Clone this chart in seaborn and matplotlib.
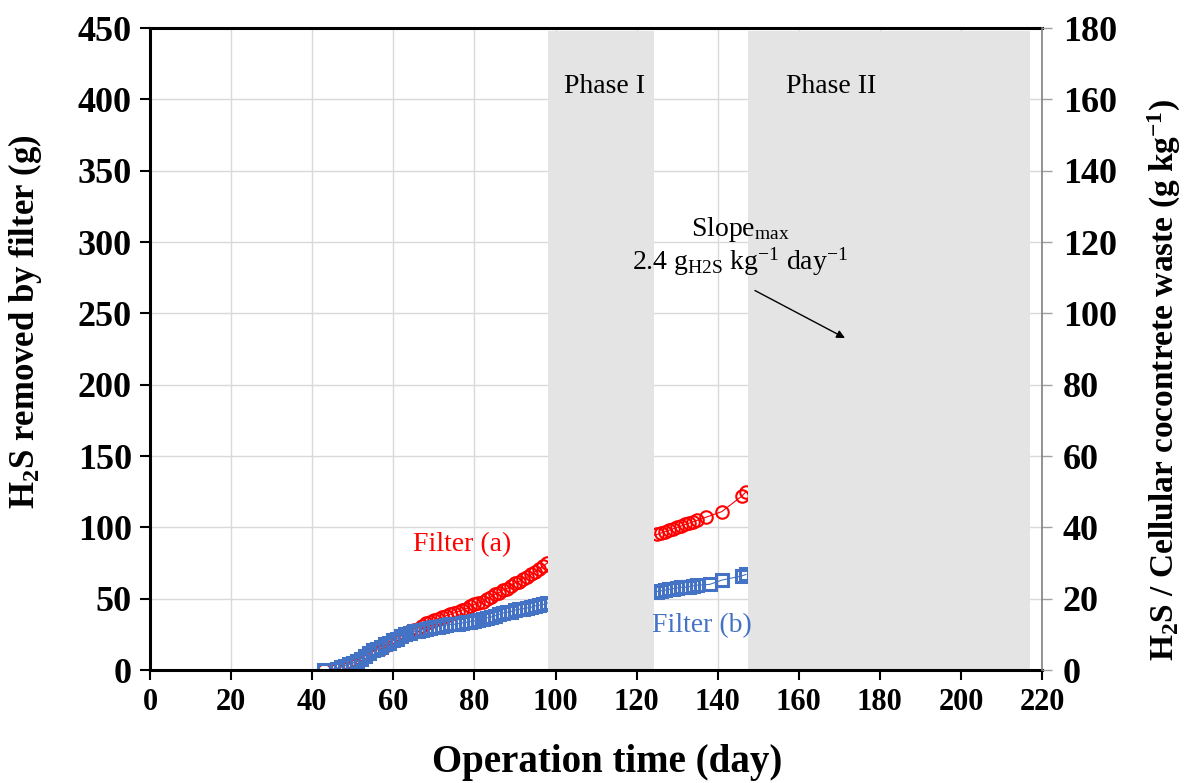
import matplotlib
matplotlib.use("Agg")
import matplotlib.pyplot as plt
import seaborn as sns
import pandas as pd

# ---------------- data ----------------
days_a = [43, 46, 47, 48, 49, 50, 51, 52, 53, 54, 55, 56, 57, 58, 59, 60, 61, 62, 63, 64,
          65, 66, 67, 68, 69, 70, 71, 72, 73, 74, 75, 76, 77, 78, 79, 80, 81, 82, 83, 84,
          85, 86, 87, 88, 89, 90, 91, 92, 93, 94, 95, 96, 97, 98,
          125, 126, 127, 128, 129, 130, 131, 132, 133, 134, 135, 137, 141, 146, 147]
h2s_a = [0, 1, 2, 3, 4, 5, 6, 8, 10, 11, 13, 14, 15, 17, 19, 21, 22, 24, 25, 27,
         28, 29, 31, 33, 34, 35, 36, 37, 38, 39, 40, 41, 42, 43, 45, 46, 47, 48, 50, 51,
         53, 54, 56, 57, 59, 61, 62, 64, 65, 67, 69, 71, 73, 75,
         95, 96, 97, 98, 99, 100, 101, 102, 103, 104, 105, 107, 111, 122, 125]

days_b = [43, 46, 47, 48, 49, 50, 51, 52, 53, 54, 55, 56, 57, 58, 59, 60, 61, 62, 63, 64,
          65, 66, 67, 68, 69, 70, 71, 72, 73, 74, 75, 76, 77, 78, 79, 80, 81, 82, 83, 84,
          85, 86, 87, 88, 89, 90, 91, 92, 93, 94, 95, 96, 97, 98,
          125, 126, 127, 128, 129, 130, 131, 132, 133, 134, 135, 138, 141, 146, 147]
h2s_b = [0, 1, 2, 3, 4, 5, 6, 8, 10, 12, 14, 15, 16, 18, 19, 21, 22, 24, 25, 26,
         27, 27.5, 28, 29, 29.5, 30, 30.5, 31, 31.5, 32, 32, 32.5, 33, 33.5, 34, 34.5, 35, 36, 36.5, 37,
         38, 39, 40, 40.5, 41, 42, 42.5, 43, 43.5, 44, 45, 45.5, 46, 47,
         55, 55.5, 56, 56.5, 57, 57.5, 58, 58, 58.5, 59, 59.5, 60, 63, 66, 67]

phase_names = ["Phase I", "Phase II"]
phase_spans = [(98.1, 124.3), (147.5, 217.0)]

x_ticks = list(range(0, 221, 20))
y_left_ticks = list(range(0, 451, 50))
y_right_ticks = list(range(0, 181, 20))

df_a = pd.DataFrame({"day": days_a, "h2s": h2s_a})
df_b = pd.DataFrame({"day": days_b, "h2s": h2s_b})

# ---------------- style ----------------
sns.set_theme(style="white")
plt.rcParams["font.family"] = ["Liberation Serif", "DejaVu Serif"]
plt.rcParams["mathtext.default"] = "regular"
plt.rcParams["text.color"] = "black"
plt.rcParams["axes.labelcolor"] = "black"
plt.rcParams["xtick.color"] = "black"
plt.rcParams["ytick.color"] = "black"

RED = "#FF0000"
BLUE = "#4472C4"
GRAY = "#E4E4E4"

fig = plt.figure(figsize=(11.89, 7.83), dpi=100)
ax = fig.add_axes([0.1262, 0.1443, 0.7502, 0.8199])

ax.set_axisbelow(True)
ax.grid(True, color="#D9D9D9", linewidth=1.0)

sns.lineplot(data=df_a, x="day", y="h2s", ax=ax, color=RED, linewidth=0.8,
             marker="o", markersize=9, markerfacecolor="none",
             markeredgecolor=RED, markeredgewidth=1.5, sort=False,
             estimator=None, zorder=2)
sns.lineplot(data=df_b, x="day", y="h2s", ax=ax, color=BLUE, linewidth=0.8,
             marker="s", markersize=9, markerfacecolor="none",
             markeredgecolor=BLUE, markeredgewidth=2.2, sort=False,
             estimator=None, zorder=2)

for (x0, x1) in phase_spans:
    ax.axvspan(x0, x1, ymin=0, ymax=0.995, color=GRAY, zorder=3, linewidth=0)

ax.set_xlim(0, 220)
ax.set_ylim(0, 450)
ax.set_xticks(x_ticks)
ax.set_yticks(y_left_ticks)

for lab in ax.get_xticklabels():
    lab.set_fontweight("bold")
    lab.set_fontsize(22)
for lab in ax.get_yticklabels():
    lab.set_fontweight("bold")
    lab.set_fontsize(26)

ax.tick_params(axis="both", direction="out", length=7, width=1.5, color="black",
               bottom=True, left=True, pad=6)

for s in ["left", "bottom", "top"]:
    ax.spines[s].set_color("black")
    ax.spines[s].set_linewidth(2.2)
    ax.spines[s].set_zorder(6)
ax.spines["right"].set_visible(False)

ax.set_xlabel("Operation time (day)", fontsize=28, fontweight="bold")
ax.xaxis.set_label_coords(0.512, -0.115)
ax.set_ylabel("H$_2$S removed by filter (g)", fontsize=25, fontweight="bold")
ax.yaxis.set_label_coords(-0.119, 0.542)

# right axis
ax2 = ax.twinx()
ax2.set_ylim(0, 180)
ax2.set_yticks(y_right_ticks)
for lab in ax2.get_yticklabels():
    lab.set_fontweight("bold")
    lab.set_fontsize(26)
ax2.tick_params(axis="y", direction="out", length=7, width=1.0, color="#A0A0A0",
                right=True, pad=8)
for s in ["left", "bottom", "top"]:
    ax2.spines[s].set_visible(False)
ax2.spines["right"].set_color("#808080")
ax2.spines["right"].set_linewidth(1.2)
ax2.grid(False)
ax2.set_ylabel("H$_2$S / Cellular cocontrete waste (g kg$^{-1}$)", fontsize=24,
               fontweight="bold")
ax2.yaxis.set_label_coords(1.117, 0.452)

# texts
ax.text(112, 409, phase_names[0], fontsize=20, ha="center", va="center", zorder=7)
ax.text(168, 409, phase_names[1], fontsize=20, ha="center", va="center", zorder=7)
ax.text(77, 87.6, "Filter (a)", fontsize=20, color=RED, ha="center", va="center", zorder=7)
ax.text(136, 30.8, "Filter (b)", fontsize=20, color=BLUE, ha="center", va="center", zorder=7)
ax.text(145.5, 309, "Slope$_{max}$", fontsize=20, ha="center", va="center", zorder=7)
ax.text(145.5, 286, "2.4 g$_{H2S}$ kg$^{-1}$ day$^{-1}$", fontsize=20, ha="center",
        va="center", zorder=7)
ax.annotate("", xy=(171.4, 232.7), xytext=(149.2, 266), zorder=7,
            arrowprops=dict(arrowstyle="-|>", color="black", lw=1.0,
                            mutation_scale=12, shrinkA=0, shrinkB=0))

fig.savefig("out.png", dpi=100)
